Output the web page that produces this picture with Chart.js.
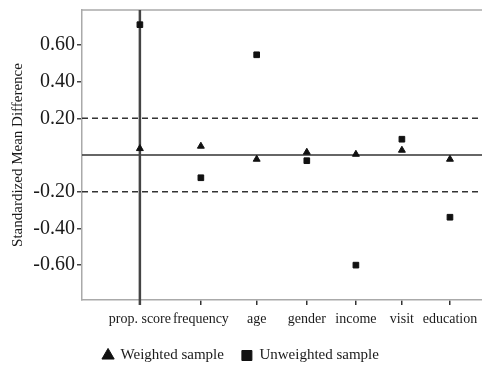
<!DOCTYPE html>
<html>
<head>
<meta charset="utf-8">
<script src="https://cdn.jsdelivr.net/npm/chart.js@4/dist/chart.umd.min.js"></script>
<style>
  html, body { margin: 0; padding: 0; background: #fff; }
</style>
</head>
<body>
<canvas id="smdChart" width="482" height="373"></canvas>
<script>
// covariates on the x axis, in plot order, and where each sits on the x axis
const covariates = ['prop. score', 'frequency', 'age', 'gender', 'income', 'visit', 'education'];
const covariateX = [0, 1.18, 2.26, 3.23, 4.18, 5.07, 6];
// standardized mean differences
const weighted = [0.035, 0.048, -0.023, 0.015, 0.004, 0.026, -0.023];
const unweighted = [0.71, -0.124, 0.546, -0.031, -0.60, 0.086, -0.339];
const yTicks = [-0.6, -0.4, -0.2, 0, 0.2, 0.4, 0.6];
const balanceLimits = [0.2, -0.2];

const serif = "'Liberation Serif', 'Times New Roman', serif";
const ink = '#1a1a1a';

// frame top, +/-0.2 limits, zero line and the divider at prop. score
const refLines = {
    id: 'refLines',
    beforeDatasetsDraw(chart) {
        const { ctx, chartArea: a, scales: { x, y } } = chart;
        ctx.save();
        ctx.strokeStyle = '#aaa';
        ctx.lineWidth = 1.5;
        ctx.beginPath();
        ctx.moveTo(a.left, a.top);
        ctx.lineTo(a.right, a.top);
        ctx.stroke();

        ctx.strokeStyle = '#333';
        ctx.setLineDash([6, 4]);
        balanceLimits.forEach(v => {
            const py = y.getPixelForValue(v);
            ctx.beginPath();
            ctx.moveTo(a.left, py);
            ctx.lineTo(a.right, py);
            ctx.stroke();
        });
        ctx.setLineDash([]);

        const zy = y.getPixelForValue(0);
        ctx.beginPath();
        ctx.moveTo(a.left, zy);
        ctx.lineTo(a.right, zy);
        ctx.stroke();

        const px = x.getPixelForValue(covariateX[0]);
        ctx.strokeStyle = '#444';
        ctx.lineWidth = 2.5;
        ctx.beginPath();
        ctx.moveTo(px, a.top);
        ctx.lineTo(px, a.bottom + 5);
        ctx.stroke();
        ctx.restore();
    }
};

new Chart(document.getElementById('smdChart'), {
    type: 'scatter',
    data: {
        datasets: [{
            label: 'Weighted sample',
            data: weighted.map((v, i) => ({ x: covariateX[i], y: v })),
            pointStyle: 'triangle',
            pointRadius: 4,
            backgroundColor: '#111',
            borderColor: '#111',
            borderWidth: 1
        }, {
            label: 'Unweighted sample',
            data: unweighted.map((v, i) => ({ x: covariateX[i], y: v })),
            pointStyle: 'rect',
            pointRadius: 4,
            backgroundColor: '#111',
            borderColor: '#111',
            borderWidth: 1
        }]
    },
    options: {
        responsive: false,
        animation: false,
        layout: { autoPadding: false, padding: { top: 10, right: 0, bottom: 0, left: 0 } },
        plugins: {
            tooltip: { enabled: false },
            legend: {
                position: 'bottom',
                labels: {
                    usePointStyle: true,
                    boxWidth: 10,
                    boxHeight: 10,
                    padding: 18,
                    color: ink,
                    font: { family: serif, size: 15 }
                }
            }
        },
        scales: {
            x: {
                type: 'linear',
                min: -1.12,
                max: 6.62,
                afterBuildTicks: axis => { axis.ticks = covariateX.map(v => ({ value: v })); },
                afterFit: axis => { axis.height = 30; axis.paddingLeft = 0; axis.paddingRight = 0; },
                ticks: {
                    callback: (v, i) => covariates[i],
                    autoSkip: false,
                    maxRotation: 0,
                    padding: 6,
                    color: ink,
                    font: { family: serif, size: 14 }
                },
                grid: { drawOnChartArea: false, tickLength: 5, color: '#333', lineWidth: 1.5 },
                border: { color: '#aaa', width: 1.5 }
            },
            y: {
                min: -0.79,
                max: 0.79,
                afterBuildTicks: axis => { axis.ticks = yTicks.map(v => ({ value: v })); },
                afterFit: axis => { axis.width = 82; axis.paddingTop = 0; axis.paddingBottom = 0; },
                ticks: {
                    callback: v => (v === 0 ? '' : v.toFixed(2)),
                    padding: 2,
                    color: ink,
                    font: { family: serif, size: 20 }
                },
                grid: {
                    drawOnChartArea: false,
                    tickLength: 5,
                    lineWidth: 1.5,
                    color: c => (c.tick && c.tick.value === 0 ? 'rgba(0,0,0,0)' : '#444')
                },
                border: { color: '#aaa', width: 1.5 },
                title: {
                    display: true,
                    text: 'Standardized Mean Difference',
                    color: ink,
                    padding: { top: 9, bottom: 0 },
                    font: { family: serif, size: 15 }
                }
            }
        }
    },
    plugins: [refLines]
});
</script>
</body>
</html>
